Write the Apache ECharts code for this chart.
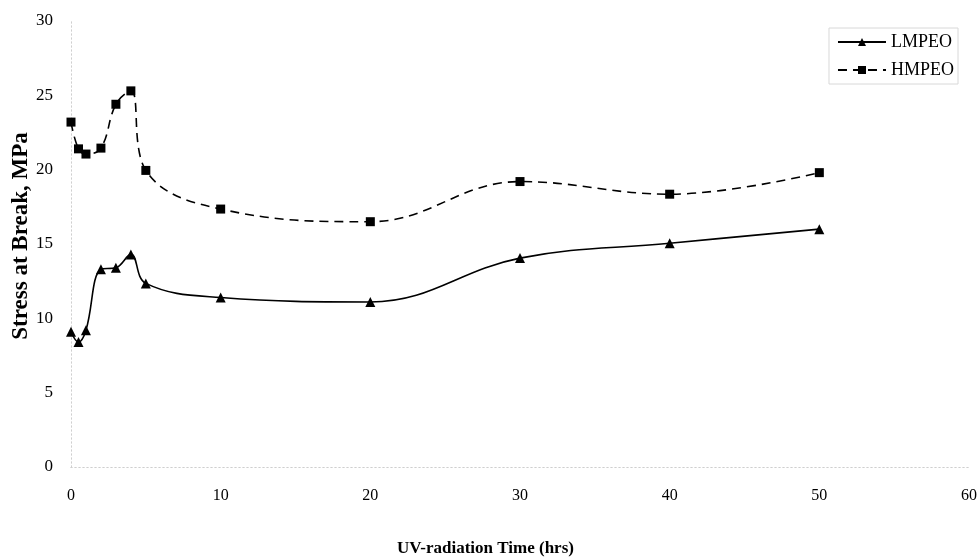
<!DOCTYPE html>
<html>
<head>
<meta charset="utf-8">
<script src="https://cdn.jsdelivr.net/npm/echarts@6/dist/echarts.min.js"></script>
<style>
html,body{margin:0;padding:0;background:#fff;}
#c{width:978px;height:558px;}
</style>
</head>
<body>
<div id="c"></div>
<script>
const xValues = [0, 0.5, 1, 2, 3, 4, 5, 10, 20, 30, 40, 50];
const lmpeo = [9.1, 8.4, 9.2, 13.3, 13.4, 14.3, 12.35, 11.4, 11.1, 14.05, 15.05, 16.0];
const hmpeo = [23.2, 21.4, 21.05, 21.45, 24.4, 25.3, 19.95, 17.35, 16.5, 19.2, 18.35, 19.8];
const seriesNames = ['LMPEO', 'HMPEO'];
const xTitle = 'UV-radiation Time (hrs)';
const yTitle = 'Stress at Break, MPa';

const font = 'Liberation Serif';
const chart = echarts.init(document.getElementById('c'), null, {renderer: 'canvas'});
const pairs = arr => xValues.map((x, i) => [x, arr[i]]);
const faint = {show: true, lineStyle: {color: '#cfcfcf', type: [1, 3], width: 1}};

chart.setOption({
  animation: false,
  backgroundColor: '#fff',
  grid: {left: 71, right: 9, top: 21, bottom: 91, containLabel: false, outerBoundsMode: 'none'},
  legend: {
    orient: 'vertical',
    right: 20,
    top: 28,
    itemWidth: 48,
    itemHeight: 10,
    itemGap: 10,
    padding: [5, 4, 5, 8],
    borderColor: '#d8d8d8',
    borderWidth: 1,
    textStyle: {fontFamily: font, fontSize: 18, color: '#000'},
    data: seriesNames
  },
  xAxis: [{
    type: 'value', min: 0, max: 60, interval: 10,
    axisLine: faint,
    axisTick: {show: false},
    splitLine: {show: false},
    axisLabel: {fontFamily: font, fontSize: 16, color: '#000', margin: 21}
  }, {
    type: 'value', min: 0, max: 60, position: 'top',
    axisLine: faint, axisTick: {show: false}, axisLabel: {show: false}, splitLine: {show: false}
  }],
  yAxis: [{
    type: 'value', min: 0, max: 30, interval: 5,
    axisLine: faint,
    axisTick: {show: false},
    splitLine: {show: false},
    axisLabel: {fontFamily: font, fontSize: 17, color: '#000', margin: 18}
  }, {
    type: 'value', min: 0, max: 30, position: 'right',
    axisLine: faint, axisTick: {show: false}, axisLabel: {show: false}, splitLine: {show: false}
  }],
  graphic: [{
    type: 'text',
    left: 397,
    top: 540,
    style: {text: xTitle, font: 'bold 17px "Liberation Serif"', fill: '#000'}
  }, {
    type: 'text',
    x: 21,
    y: 236,
    rotation: Math.PI / 2,
    style: {text: yTitle, font: 'bold 23px "Liberation Serif"', fill: '#000', align: 'center', verticalAlign: 'middle'}
  }],
  series: [{
    name: seriesNames[0],
    type: 'line',
    smooth: 0.4,
    data: pairs(lmpeo),
    symbol: 'triangle',
    symbolSize: 10,
    itemStyle: {color: '#000'},
    lineStyle: {color: '#000', width: 1.6, type: 'solid'}
  }, {
    name: seriesNames[1],
    type: 'line',
    smooth: 0.4,
    data: pairs(hmpeo),
    symbol: 'rect',
    symbolSize: 9,
    itemStyle: {color: '#000'},
    lineStyle: {color: '#000', width: 1.6, type: [9, 6]}
  }]
});
</script>
</body>
</html>
